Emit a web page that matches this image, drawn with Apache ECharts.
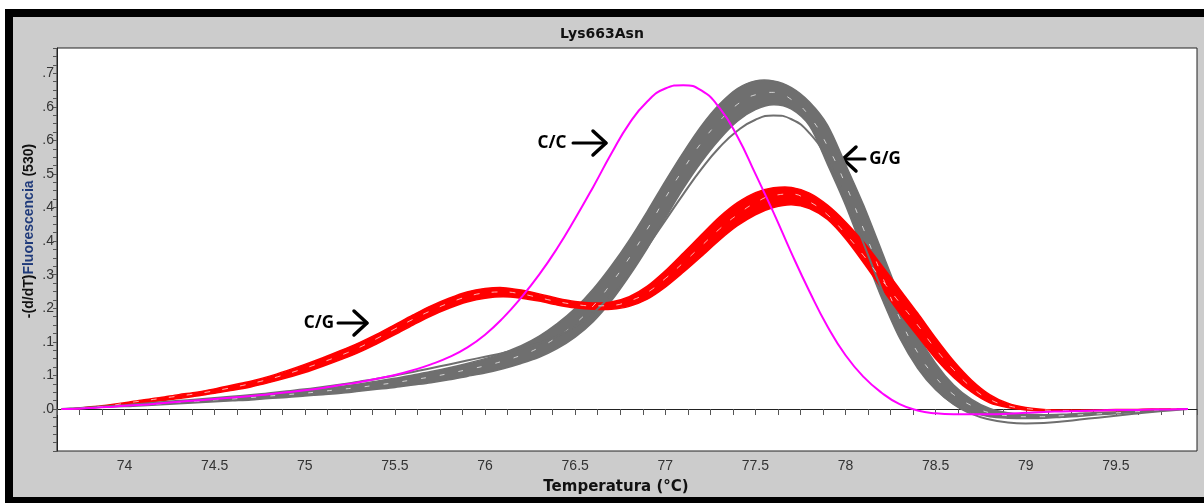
<!DOCTYPE html>
<html>
<head>
<meta charset="utf-8">
<title>Lys663Asn</title>
<script src="https://cdn.jsdelivr.net/npm/echarts@6/dist/echarts.min.js"></script>
<style>
  html, body { margin: 0; padding: 0; background: #fff; }
  #chart { width: 1204px; height: 503px; }
</style>
</head>
<body>
<div id="chart"></div>
<script>
// temperaturas (°C)
const temps = [
  73.65, 73.7, 73.8, 73.9,
  74.0, 74.1, 74.2, 74.3, 74.4, 74.5, 74.6, 74.7, 74.8, 74.9,
  75.0, 75.1, 75.2, 75.3, 75.4, 75.5, 75.6, 75.7, 75.8, 75.9,
  76.0, 76.1, 76.2, 76.3, 76.4, 76.5, 76.6, 76.7, 76.8, 76.9,
  77.0, 77.1, 77.2, 77.3, 77.4, 77.5, 77.6, 77.7, 77.8, 77.9,
  78.0, 78.1, 78.2, 78.3, 78.4, 78.5, 78.6, 78.7, 78.8, 78.9,
  79.0, 79.1, 79.2, 79.3, 79.4, 79.5, 79.6, 79.7, 79.8, 79.9
];

// C/C (magenta)
const ccCurve = [
  0, 0.0, 0.002, 0.004,
  0.007, 0.009, 0.012, 0.015, 0.018, 0.021, 0.024, 0.027, 0.031, 0.035,
  0.039, 0.044, 0.050, 0.056, 0.063, 0.071, 0.081, 0.093, 0.108, 0.128,
  0.155, 0.190, 0.232, 0.280, 0.335, 0.397, 0.463, 0.532, 0.595, 0.641,
  0.668, 0.675, 0.664, 0.628, 0.568, 0.490, 0.410, 0.325, 0.245, 0.172,
  0.112, 0.067, 0.034, 0.010, -0.003, -0.009, -0.011, -0.011, -0.011, -0.010,
  -0.008, -0.006, -0.005, -0.004, -0.003, -0.002, -0.002, -0.001, -0.001, 0
];

// G/G (gris)
const ggHigh = [
  0, 0.001, 0.003, 0.006,
  0.008, 0.011, 0.013, 0.016, 0.019, 0.022, 0.025, 0.028, 0.031, 0.035,
  0.039, 0.043, 0.047, 0.052, 0.058, 0.064, 0.071, 0.078, 0.086, 0.095,
  0.105, 0.117, 0.132, 0.152, 0.178, 0.210, 0.250, 0.298, 0.352, 0.412,
  0.475, 0.535, 0.590, 0.635, 0.668, 0.684, 0.684, 0.670, 0.640, 0.592,
  0.510, 0.425, 0.330, 0.235, 0.155, 0.095, 0.050, 0.020, 0.001, -0.008,
  -0.011, -0.012, -0.011, -0.009, -0.007, -0.006, -0.004, -0.003, -0.001, 0
];
const ggMid = [
  0, 0.001, 0.003, 0.005,
  0.007, 0.009, 0.011, 0.014, 0.016, 0.019, 0.021, 0.024, 0.027, 0.030,
  0.033, 0.037, 0.041, 0.045, 0.050, 0.055, 0.061, 0.067, 0.074, 0.082,
  0.090, 0.100, 0.112, 0.128, 0.150, 0.178, 0.215, 0.262, 0.315, 0.375,
  0.440, 0.500, 0.555, 0.600, 0.635, 0.655, 0.660, 0.645, 0.610, 0.548,
  0.468, 0.375, 0.280, 0.190, 0.118, 0.066, 0.030, 0.007, -0.008, -0.014,
  -0.016, -0.016, -0.014, -0.012, -0.010, -0.008, -0.006, -0.004, -0.002, 0
];
const ggLow = [
  0, 0.0, 0.002, 0.004,
  0.005, 0.007, 0.009, 0.011, 0.013, 0.015, 0.017, 0.019, 0.022, 0.024,
  0.027, 0.030, 0.033, 0.037, 0.041, 0.045, 0.050, 0.055, 0.061, 0.068,
  0.075, 0.084, 0.095, 0.108, 0.126, 0.150, 0.182, 0.225, 0.277, 0.335,
  0.398, 0.460, 0.515, 0.562, 0.600, 0.624, 0.634, 0.625, 0.590, 0.510,
  0.425, 0.328, 0.232, 0.148, 0.085, 0.040, 0.010, -0.007, -0.016, -0.019,
  -0.020, -0.019, -0.017, -0.015, -0.012, -0.010, -0.007, -0.005, -0.002, 0
];
const ggOut = [
  0, 0.001, 0.003, 0.006,
  0.008, 0.011, 0.014, 0.017, 0.020, 0.023, 0.026, 0.029, 0.033, 0.037,
  0.041, 0.046, 0.051, 0.057, 0.063, 0.070, 0.077, 0.085, 0.093, 0.101,
  0.109, 0.117, 0.126, 0.137, 0.152, 0.172, 0.200, 0.238, 0.285, 0.338,
  0.393, 0.448, 0.500, 0.545, 0.580, 0.603, 0.612, 0.604, 0.575, 0.520,
  0.440, 0.345, 0.250, 0.165, 0.095, 0.045, 0.010, -0.010, -0.022, -0.028,
  -0.030, -0.029, -0.026, -0.022, -0.018, -0.014, -0.010, -0.006, -0.003, 0
];

// C/G (rojo)
const cgHigh = [
  0, 0.0, 0.004, 0.008,
  0.013, 0.019, 0.024, 0.030, 0.035, 0.042, 0.050, 0.058, 0.068, 0.080,
  0.093, 0.107, 0.122, 0.138, 0.156, 0.176, 0.196, 0.215, 0.231, 0.244,
  0.251, 0.253, 0.248, 0.240, 0.231, 0.224, 0.221, 0.223, 0.234, 0.256,
  0.288, 0.325, 0.363, 0.400, 0.430, 0.451, 0.461, 0.462, 0.450, 0.425,
  0.390, 0.348, 0.300, 0.250, 0.200, 0.148, 0.100, 0.060, 0.030, 0.012,
  0.003, -0.001, -0.002, -0.002, -0.002, -0.001, -0.001, 0.0, 0.0, 0.0
];
const cgMid = [
  0, 0.0, 0.003, 0.006,
  0.012, 0.017, 0.022, 0.027, 0.032, 0.038, 0.045, 0.053, 0.062, 0.073,
  0.085, 0.098, 0.112, 0.128, 0.147, 0.167, 0.187, 0.205, 0.221, 0.234,
  0.242, 0.244, 0.240, 0.232, 0.224, 0.218, 0.215, 0.216, 0.225, 0.243,
  0.272, 0.305, 0.340, 0.375, 0.405, 0.430, 0.445, 0.448, 0.432, 0.405,
  0.365, 0.320, 0.270, 0.222, 0.175, 0.125, 0.082, 0.045, 0.020, 0.007,
  0.001, -0.002, -0.003, -0.003, -0.003, -0.002, -0.002, -0.001, 0.0, 0.0
];
const cgLow = [
  0, 0.0, 0.002, 0.005,
  0.009, 0.013, 0.017, 0.022, 0.027, 0.033, 0.039, 0.046, 0.055, 0.065,
  0.076, 0.089, 0.103, 0.118, 0.136, 0.155, 0.175, 0.194, 0.210, 0.223,
  0.231, 0.234, 0.231, 0.225, 0.217, 0.211, 0.208, 0.208, 0.214, 0.229,
  0.254, 0.285, 0.318, 0.352, 0.382, 0.405, 0.420, 0.426, 0.418, 0.395,
  0.355, 0.305, 0.252, 0.200, 0.152, 0.105, 0.066, 0.035, 0.013, 0.003,
  -0.002, -0.004, -0.004, -0.004, -0.003, -0.003, -0.002, -0.001, 0.0, 0.0
];

// marcas de los ejes
const yTickValues = [0, 0.07, 0.14, 0.21, 0.28, 0.35, 0.42, 0.49, 0.56, 0.63, 0.7];
const yTickLabels = ['.0', '.1', '.1', '.2', '.3', '.4', '.4', '.5', '.6', '.6', '.7'];
const xTickLabels = ['74', '74.5', '75', '75.5', '76', '76.5', '77', '77.5', '78', '78.5', '79', '79.5'];

const GRAY = '#6f6f6f', RED = '#ff0000', MAGENTA = '#ff00ff';

function curve(values, color, width, dash) {
  return {
    type: 'line',
    data: temps.map((t, i) => [t, values[i]]),
    smooth: true,
    symbol: 'none',
    lineStyle: { color: color, width: width, type: dash || 'solid' },
    itemStyle: { color: color },
    emphasis: { disabled: true },
    silent: true
  };
}

// relleno entre la envolvente inferior y superior de un grupo de curvas
function band(group, color) {
  const lo = temps.map((t, i) => Math.min(...group.map(g => g[i])));
  const hi = temps.map((t, i) => Math.max(...group.map(g => g[i])));
  return {
    type: 'custom',
    coordinateSystem: 'cartesian2d',
    data: [[temps[0], 0]],
    silent: true,
    renderItem: (params, api) => {
      const top = temps.map((t, i) => api.coord([t, hi[i]]));
      const bottom = temps.map((t, i) => api.coord([t, lo[i]])).reverse();
      return {
        type: 'polygon',
        shape: { points: top.concat(bottom), smooth: 0.3 },
        style: { fill: color, stroke: color, lineWidth: 1.5 }
      };
    }
  };
}

function arrow(tipX, y, tailX) {
  const dir = tailX < tipX ? 1 : -1;
  return [
    { type: 'line', shape: { x1: tailX, y1: y, x2: tipX, y2: y },
      style: { stroke: '#000', lineWidth: 3, lineCap: 'round' } },
    { type: 'polyline', shape: { points: [[tipX - dir * 13, y - 12], [tipX, y], [tipX - dir * 13, y + 12]] },
      style: { stroke: '#000', fill: null, lineWidth: 3.5, lineCap: 'round', lineJoin: 'round' } }
  ];
}

function label(text, x, y) {
  return { type: 'text', x: x, y: y,
    style: { text: text, fill: '#000', font: 'bold 17px "Noto Sans", "Open Sans", sans-serif',
      align: 'center', verticalAlign: 'middle' } };
}

const chart = echarts.init(document.getElementById('chart'));
chart.setOption({
  animation: false,
  backgroundColor: '#cccccc',
  title: {
    text: 'Lys663Asn',
    left: 'center',
    top: 22,
    textStyle: { fontFamily: 'DejaVu Sans', fontWeight: 'bold', fontSize: 14, color: '#111' }
  },
  grid: {
    left: 57, right: 7, top: 48, bottom: 52,
    show: true, backgroundColor: '#ffffff', borderColor: '#222', borderWidth: 1
  },
  xAxis: {
    type: 'value',
    min: 73.625, max: 79.95, interval: 0.125,
    axisLine: { show: true, lineStyle: { color: '#222' } },
    axisTick: { show: true, length: 6, lineStyle: { color: '#555' } },
    splitLine: { show: false },
    axisLabel: {
      margin: 8, color: '#333', fontSize: 14,
      fontFamily: '"Liberation Sans Narrow", "Liberation Sans", sans-serif',
      formatter: v => {
        const s = xTickLabels.find(l => Math.abs(parseFloat(l) - v) < 1e-6);
        return s || '';
      }
    }
  },
  yAxis: {
    type: 'value',
    min: -0.0875, max: 0.7525, interval: 0.0175,
    axisLine: { show: true, lineStyle: { color: '#222' } },
    axisTick: { show: true, length: 4, lineStyle: { color: '#555' } },
    splitLine: { show: false },
    axisLabel: {
      margin: 3, color: '#333', fontSize: 14,
      fontFamily: '"Liberation Sans Narrow", "Liberation Sans", sans-serif',
      formatter: v => {
        const i = yTickValues.findIndex(t => Math.abs(t - v) < 1e-6);
        return i >= 0 ? yTickLabels[i] : '';
      }
    }
  },
  series: [
    band([ggHigh, ggMid, ggLow], GRAY),
    curve(ggMid, '#ffffff', 0.7, [5, 14]),
    curve(ggOut, GRAY, 2),
    band([cgHigh, cgMid, cgLow], RED),
    curve(cgMid, '#ffffff', 0.7, [6, 12]),
    curve(ccCurve, MAGENTA, 2)
  ],
  graphic: [
    // marco
    { type: 'rect', shape: { x: 0, y: 0, width: 1204, height: 9 }, style: { fill: '#fff' }, silent: true },
    { type: 'rect', shape: { x: 0, y: 0, width: 5, height: 503 }, style: { fill: '#fff' }, silent: true },
    { type: 'rect', shape: { x: 5, y: 9, width: 1199, height: 8 }, style: { fill: '#000' }, silent: true },
    { type: 'rect', shape: { x: 5, y: 9, width: 8, height: 494 }, style: { fill: '#000' }, silent: true },
    { type: 'rect', shape: { x: 5, y: 497, width: 1199, height: 6 }, style: { fill: '#000' }, silent: true },
    // títulos de ejes
    { type: 'text', x: 616, y: 487,
      style: { text: 'Temperatura (°C)', fill: '#111', font: 'bold 15px "DejaVu Sans", sans-serif',
        align: 'center', verticalAlign: 'middle' } },
    { type: 'text', x: 29, y: 231, rotation: Math.PI / 2,
      style: {
        text: '{a|-(d/dT)}{b|Fluorescencia}{a| (530)}',
        align: 'center', verticalAlign: 'middle',
        rich: {
          a: { fill: '#111', font: 'bold 14px "Liberation Sans", sans-serif' },
          b: { fill: '#1f3a7a', font: 'bold 14px "Liberation Sans", sans-serif' }
        }
      } },
    // anotaciones
    label('C/C', 552, 143),
    ...arrow(606, 143, 573),
    label('G/G', 885, 159),
    ...arrow(843, 159, 865),
    label('C/G', 319, 323),
    ...arrow(367, 323, 338)
  ]
});
</script>
</body>
</html>
